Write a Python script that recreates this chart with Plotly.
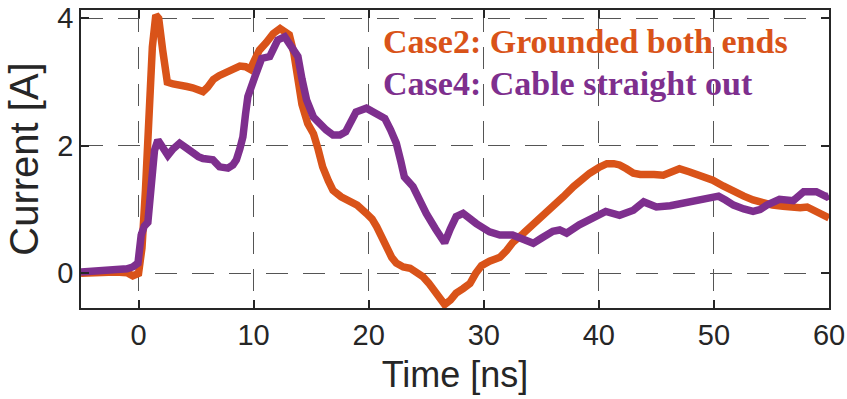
import plotly.graph_objects as go

# Measured current waveforms (time in ns, current in A)
case2_time = [-5, -4, -3, -2, -1, -0.5, 0, 0.3, 0.6, 0.95, 1.2, 1.5, 1.75, 2.1, 2.5,
              3.0, 3.6, 4.2, 4.7, 5.2, 5.6, 6.0, 6.5, 7.0, 7.6, 8.2, 8.8, 9.3, 9.7,
              10.1, 10.5, 11.1, 11.7, 12.3, 12.7, 13.1, 13.5, 13.8, 14.2, 14.7, 15.2,
              15.6, 16.0, 16.5, 16.9, 17.6, 18.3, 19.0, 19.8, 20.3, 20.7, 21.1, 21.5,
              22.0, 22.4, 23.0, 23.6, 24.2, 24.7, 25.2, 25.6, 26.1, 26.6, 27.1, 27.6,
              28.2, 28.8, 29.3, 29.8, 30.5, 31.4, 32.0, 32.5, 33.4, 34.3, 35.2, 36.0,
              36.9, 37.8, 38.5, 39.2, 40.0, 40.7, 41.3, 41.8, 42.4, 43.0, 43.6, 44.1,
              44.8, 45.6, 46.3, 47.0, 47.9, 48.8, 49.9, 50.8, 51.7, 52.6, 53.4, 54.2,
              55.1, 56.0, 56.9, 57.5, 58.1, 58.9, 59.7, 60]
case2_current = [0.0, 0.01, 0.0, 0.02, 0.01, -0.04, 0.0, 0.4, 1.3, 2.7, 3.55, 4.05, 4.0,
                 3.5, 3.0, 2.97, 2.96, 2.93, 2.91, 2.88, 2.85, 2.92, 3.04, 3.1, 3.16,
                 3.2, 3.25, 3.24, 3.2, 3.35, 3.5, 3.62, 3.76, 3.84, 3.8, 3.74, 3.45, 3.1,
                 2.65, 2.35, 2.19, 1.95, 1.67, 1.45, 1.30, 1.2, 1.15, 1.07, 0.94, 0.85,
                 0.73, 0.58, 0.42, 0.25, 0.16, 0.1, 0.08, 0.02, -0.05, -0.15, -0.26,
                 -0.38, -0.49, -0.42, -0.31, -0.24, -0.16, 0.0, 0.12, 0.19, 0.25, 0.36,
                 0.48, 0.62, 0.76, 0.9, 1.04, 1.2, 1.36, 1.47, 1.57, 1.66, 1.72, 1.72,
                 1.70, 1.64, 1.57, 1.55, 1.54, 1.55, 1.54, 1.58, 1.64, 1.59, 1.54, 1.46,
                 1.37, 1.28, 1.21, 1.15, 1.1, 1.07, 1.05, 1.02, 1.03, 1.04, 0.98, 0.89,
                 0.87]

case4_time = [-5, -4, -3, -2, -1, -0.5, -0.05, 0.23, 0.5, 0.81, 1.1, 1.39, 1.68, 2.0,
              2.55, 3.0, 3.57, 4.2, 4.72, 5.2, 5.6, 6.0, 6.46, 7.04, 7.77, 8.2, 8.5,
              8.8, 9.07, 9.3, 9.5, 10.1, 10.7, 11.4, 12.1, 12.7, 13.0, 13.4, 13.85,
              14.2, 14.6, 15.2, 15.7, 16.3, 16.9, 17.5, 18.0, 18.5, 18.9, 19.8, 20.6,
              21.4, 21.9, 22.4, 22.8, 23.1, 23.85, 24.4, 25.0, 25.8, 26.6, 27.1, 27.6,
              28.2, 28.8, 29.35, 30.5, 31.4, 32.5, 33.4, 34.3, 35.0, 35.5, 36.0, 36.6,
              37.2, 38.3, 39.5, 40.6, 41.8, 43.0, 43.9, 45.0, 46.2, 47.6, 48.8, 49.9,
              50.4, 51.0, 51.7, 52.6, 53.4, 54.0, 54.6, 55.7, 56.9, 57.8, 58.9, 59.8, 60]
case4_current = [0.02, 0.03, 0.03, 0.05, 0.07, 0.1, 0.16, 0.6, 0.74, 0.8, 1.36, 1.93,
                 2.09, 2.0, 1.85, 1.95, 2.04, 1.96, 1.88, 1.83, 1.80, 1.79, 1.78, 1.67,
                 1.65, 1.7, 1.78, 1.95, 2.14, 2.5, 2.77, 3.08, 3.37, 3.40, 3.66, 3.71,
                 3.63, 3.55, 3.40, 3.05, 2.72, 2.45, 2.35, 2.25, 2.17, 2.17, 2.22, 2.4,
                 2.53, 2.59, 2.52, 2.43, 2.25, 2.04, 1.75, 1.51, 1.36, 1.15, 0.94, 0.7,
                 0.48, 0.7, 0.89, 0.94, 0.85, 0.78, 0.65, 0.60, 0.60, 0.52, 0.47, 0.55,
                 0.60, 0.66, 0.68, 0.63, 0.76, 0.86, 0.97, 0.91, 0.99, 1.12, 1.04, 1.06,
                 1.12, 1.15, 1.19, 1.21, 1.15, 1.07, 1.01, 0.97, 1.0, 1.07, 1.16, 1.14,
                 1.28, 1.28, 1.20, 1.22]

x_ticks = [0, 10, 20, 30, 40, 50, 60]
y_ticks = [0, 2, 4]

ORANGE = "#D95319"
PURPLE = "#7E2F8E"
INK = "#262626"

fig = go.Figure()
fig.add_trace(go.Scatter(x=case2_time, y=case2_current, mode="lines",
                         line=dict(color=ORANGE, width=7.5), name="Case2"))
fig.add_trace(go.Scatter(x=case4_time, y=case4_current, mode="lines",
                         line=dict(color=PURPLE, width=7.5), name="Case4"))

axis_common = dict(
    showline=True, linecolor=INK, linewidth=1.5, mirror="ticks",
    ticks="inside", ticklen=8, tickwidth=1.5, tickcolor=INK,
    showgrid=True, gridcolor="#555555", gridwidth=1.3, griddash="22px,15px",
    zeroline=False, automargin=False,
    tickfont=dict(family="Liberation Sans, Arial", size=29, color=INK),
)

fig.update_xaxes(range=[-5, 60], tickvals=x_ticks,
                 title=dict(text="Time [ns]", standoff=12,
                            font=dict(family="Liberation Sans, Arial", size=36, color=INK)),
                 **axis_common)
fig.update_yaxes(range=[-0.544, 4.13], tickvals=y_ticks,
                 title=dict(text="Current [A]", standoff=6,
                            font=dict(family="Liberation Sans, Arial", size=40, color=INK)),
                 **axis_common)

label_font = dict(family="Liberation Serif, Times New Roman", size=34)
fig.add_annotation(x=21.1, y=3.63, xref="x", yref="y", xanchor="left", yanchor="middle",
                   text="<b>Case2: Grounded both ends</b>", showarrow=False,
                   font=dict(color=ORANGE, **label_font))
fig.add_annotation(x=21.1, y=2.98, xref="x", yref="y", xanchor="left", yanchor="middle",
                   text="<b>Case4: Cable straight out</b>", showarrow=False,
                   font=dict(color=PURPLE, **label_font))

fig.update_layout(
    width=847, height=399,
    margin=dict(l=81, r=18, t=10, b=91),
    paper_bgcolor="white", plot_bgcolor="white",
    showlegend=False,
)

fig.write_html("out.html")
